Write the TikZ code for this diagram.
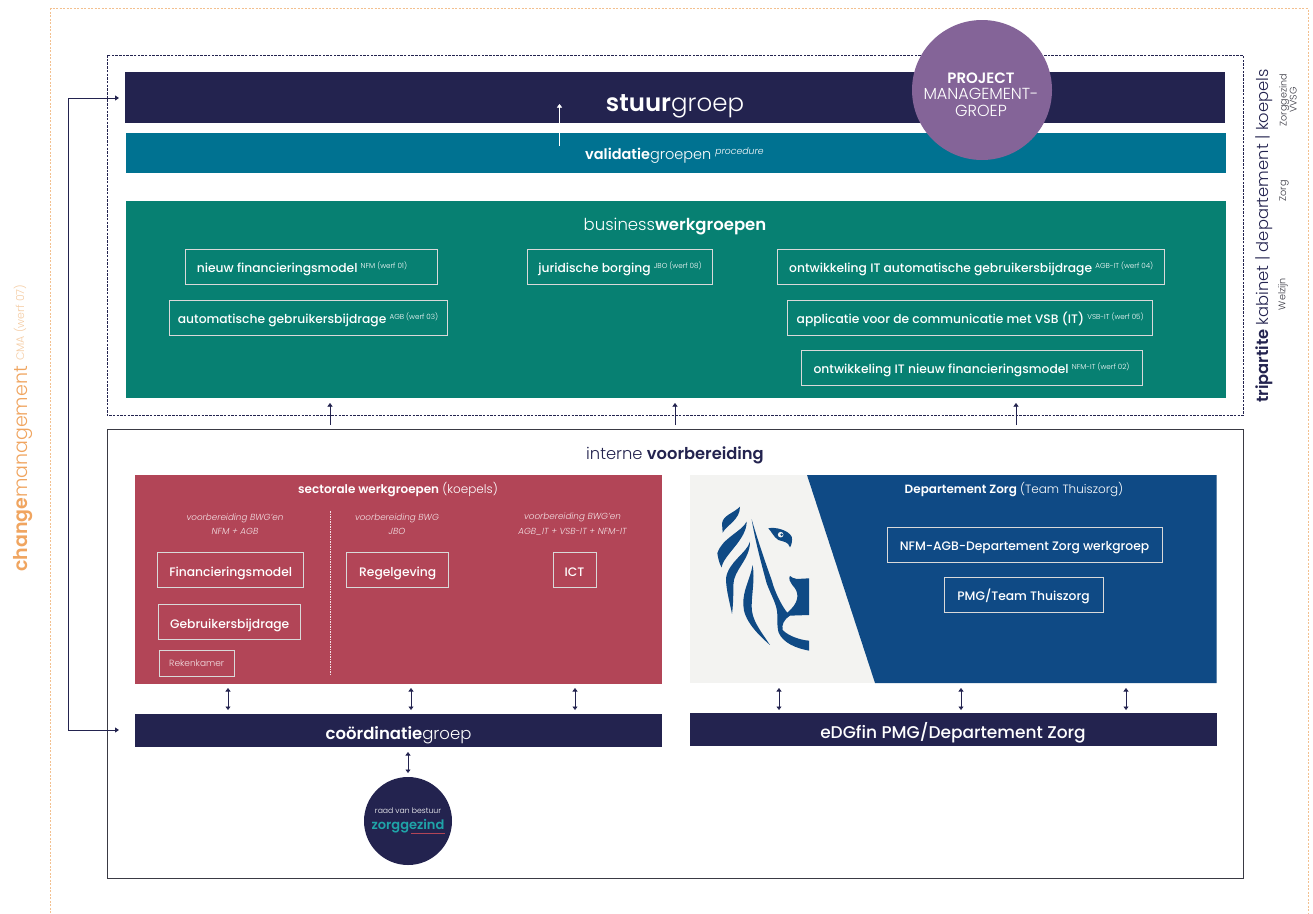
\documentclass[tikz,border=0pt]{standalone}
\usepackage{fontspec}
\setmainfont{Poppins}[BoldFont=Poppins SemiBold,ItalicFont=Poppins Light Italic]
\newfontfamily\lightf{Poppins Light}
\newfontfamily\medf{Poppins Medium}
\usetikzlibrary{arrows.meta}
\definecolor{navy}{HTML}{23234F}
\definecolor{petrol}{HTML}{007291}
\definecolor{wgreen}{HTML}{078072}
\definecolor{wine}{HTML}{B24557}
\definecolor{vblue}{HTML}{0F4A85}
\definecolor{paper}{HTML}{F3F3F1}
\definecolor{mauve}{HTML}{846498}
\definecolor{orangeL}{HTML}{F3C08F}
\definecolor{orangeT}{HTML}{F0A560}
\definecolor{teallogo}{HTML}{1FA3A8}
\definecolor{frame}{HTML}{3A3A44}
\tikzset{
 x=1pt,y=-1pt,
 bar/.style={fill=#1,draw=none},
 wbox/.style={draw=white!85!black,line width=1pt,text=white,inner sep=0pt,anchor=center,text height=12.5pt,text depth=0pt,font=\fontsize{12.3}{14}\medf},
 lbl/.style={text=white,inner sep=0pt,font=\fontsize{#1}{#1}\selectfont},
 arr/.style={draw=navy,line width=.5pt,-{Triangle[length=3.5pt,width=5pt]}},
 darr/.style={draw=navy,line width=.6pt,{Triangle[length=3.5pt,width=5pt]}-{Triangle[length=3.5pt,width=5pt]}},
 orangedash/.style={draw=orangeL,line width=.7pt,dash pattern=on 2pt off 1.5pt},
}
\newcommand{\wf}[1]{\raisebox{.7ex}{\lightf\fontsize{7.2}{8}\selectfont #1}}
\begin{document}
\begin{tikzpicture}
\useasboundingbox (0,0) rectangle (1313,913);
\fill[white] (0,0) rectangle (1313,913);
% outer orange frame
\coordinate (oa) at (50.5,913); \coordinate (ob) at (50.5,8.5); \coordinate (oc) at (1308,8.5); \coordinate (od) at (1308,913);
\draw[orangedash] (oa) -- (ob) -- (oc) -- (od);
% bars
\path[bar=navy] (125,72) rectangle (1225,122.5);
\path[bar=petrol] (126,133) rectangle (1226,172.5);
\path[bar=wgreen] (126,200.5) rectangle (1226,398);
\draw[navy,line width=1pt,dash pattern=on 2.5pt off 1.2pt] (107,55) rectangle (1243,415.5);
\node[circle,fill=mauve,minimum size=140pt,inner sep=0pt] (pmg) at (982,90) {};
\node[lbl=13,align=center,font=\fontsize{16}{16.5}\lightf,text=white] at (981,94.5) {{\normalfont\fontsize{15}{16.5}\selectfont\bfseries PROJECT}\\MANAGEMENT-\\GROEP};
\node[lbl=24.5] (stuur) at (675,106.5) {\textbf{stuur}{\lightf groep}};
\node[lbl=14.5,anchor=west] (valid) at (585,155.5) {\textbf{validatie}{\lightf groepen} \raisebox{.6ex}{\fontsize{9.3}{10}\selectfont\itshape procedure}};
\coordinate (va) at (559.5,146); \coordinate (vb) at (559.5,104);
\draw[white,line width=.5pt,-{Triangle[length=3.5pt,width=5pt]}] (va) -- (vb);
\node[lbl=16.5] (bw) at (675,227) {{\lightf business}\textbf{werkgroepen}};
% business boxes
\node[wbox,minimum width=252pt,minimum height=35pt] (b1) at (311,266.5) {nieuw financieringsmodel \wf{NFM (werf 01)}\hspace*{18pt}};
\node[wbox,minimum width=278pt,minimum height=35pt] (b2) at (308,317.5) {automatische gebruikersbijdrage \wf{AGB (werf 03)}};
\node[wbox,minimum width=185pt,minimum height=35pt] (b3) at (620,266.5) {juridische borging \wf{JBO (werf 08)}};
\node[wbox,minimum width=386.5pt,minimum height=35pt] (b4) at (971.2,266.5) {ontwikkeling IT automatische gebruikersbijdrage \wf{AGB-IT (werf 04)}};
\node[wbox,minimum width=364.5pt,minimum height=35pt] (b5) at (970.2,317.5) {applicatie voor de communicatie met VSB (IT) \wf{VSB-IT (werf 05)}};
\node[wbox,minimum width=341pt,minimum height=35pt] (b6) at (971.5,367.5) {ontwikkeling IT nieuw financieringsmodel \wf{NFM-IT (werf 02)}};
% interne
\node[draw=frame,line width=.8pt,minimum width=1136pt,minimum height=449pt,inner sep=0pt] (int) at (675,653.5) {};
\node[inner sep=0pt,text=navy,font=\fontsize{16.3}{17}\selectfont] (intl) at (675,455) {{\lightf interne} \textbf{voorbereiding}};
% red
\node[fill=wine,minimum width=527pt,minimum height=209pt,inner sep=0pt] (red) at (398.5,579.5) {};
\node[lbl=12] at (398,490) {\textbf{sectorale werkgroepen} {\lightf (koepels)}};
\coordinate (da) at (330,511); \coordinate (db) at (330,676);
\draw[white!85!wine,line width=.7pt,dash pattern=on 1.5pt off 1pt] (da) -- (db);
\node[align=center,text=white!85!wine,inner sep=0pt,font=\fontsize{8.8}{14.5}\selectfont\itshape] at (235,524) {voorbereiding BWG'en\\NFM + AGB};
\node[align=center,text=white!85!wine,inner sep=0pt,font=\fontsize{8.8}{14.5}\selectfont\itshape] at (397,524) {voorbereiding BWG\\JBO};
\node[align=center,text=white!85!wine,inner sep=0pt,font=\fontsize{8.8}{14.5}\selectfont\itshape] at (572.5,524) {voorbereiding BWG'en\\AGB\_IT + VSB-IT + NFM-IT};
\node[wbox,minimum width=145.5pt,minimum height=34.5pt] (f) at (230.7,570.2) {Financieringsmodel};
\node[wbox,minimum width=141.5pt,minimum height=35pt] (g) at (229.7,622) {Gebruikersbijdrage};
\node[wbox,minimum width=75.5pt,minimum height=26pt,font=\fontsize{9}{11}\lightf,text=white!85!wine,line width=.7pt,text height=7pt] (r) at (196.7,663) {Rekenkamer};
\node[wbox,minimum width=101.5pt,minimum height=34.5pt] (reg) at (397.7,570.2) {Regelgeving};
\node[wbox,minimum width=43pt,minimum height=34.5pt] (ict) at (574.5,570.2) {ICT};
% coord
\node[fill=navy,minimum width=527pt,minimum height=33pt,inner sep=0pt,lbl=16.5,text=white,text height=18pt,text depth=0pt] (co) at (398.5,730.5) {\textbf{coördinatie}{\lightf groep}};
% right panel
\fill[paper] (689.5,475) rectangle (1216.5,683);
\fill[vblue] (807,475) -- (1216.5,475) -- (1216.5,683) -- (875,683) -- cycle;
\node[lbl=12] at (1014,490) {\textbf{Departement Zorg} {\lightf (Team Thuiszorg)}};
\node[wbox,minimum width=275pt,minimum height=35pt] (n) at (1024.5,544.5) {NFM-AGB-Departement Zorg werkgroep};
\node[wbox,minimum width=159pt,minimum height=35pt] (p) at (1023.5,594.5) {PMG/Team Thuiszorg};
\node[fill=navy,minimum width=527pt,minimum height=33pt,inner sep=0pt,text=white,text height=18pt,text depth=0pt,font=\fontsize{17}{18}\medf] (ed) at (953,729.5) {eDGfin PMG/Departement Zorg};
% lion
\begin{scope}[shift={(700,490)},x=.3333pt,y=-.3333pt,vblue]
\fill (120,50) .. controls (100,70) and (70,75) .. (66,100) -- (68,128) .. controls (80,105) and (120,90) .. (120,50) -- cycle;
\fill (140,95) .. controls (125,125) and (65,145) .. (52,190) .. controls (55,210) and (60,225) .. (65,232) .. controls (70,195) and (140,150) .. (140,95) -- cycle;
\fill (150,155) .. controls (140,190) and (85,215) .. (78,265) .. controls (78,300) and (90,340) .. (96,372) .. controls (100,340) and (100,310) .. (100,285) .. controls (100,240) and (150,210) .. (150,155) -- cycle;
\fill (158,225) .. controls (150,270) and (128,300) .. (130,345) .. controls (130,390) and (175,435) .. (210,465) .. controls (180,420) and (155,390) .. (155,350) .. controls (155,310) and (165,270) .. (158,225) -- cycle;
\fill (155,88) .. controls (165,150) and (185,225) .. (200,280) .. controls (215,320) and (232,345) .. (232,375) .. controls (232,400) and (232,415) .. (236,428) .. controls (250,460) and (290,475) .. (327,482) -- (327,452) .. controls (300,450) and (265,438) .. (248,420) .. controls (245,405) and (250,390) .. (270,377) -- (327,375) -- (327,265) -- (290,267) .. controls (280,265) and (275,262) .. (270,258) .. controls (265,265) and (268,275) .. (285,295) .. controls (298,315) and (295,340) .. (262,368) .. controls (250,355) and (225,310) .. (215,270) .. controls (195,215) and (170,140) .. (155,88) -- cycle;
\fill (205,115) .. controls (225,110) and (265,120) .. (275,140) .. controls (278,150) and (275,165) .. (270,172) .. controls (265,155) and (250,155) .. (235,150) .. controls (220,140) and (215,125) .. (205,115) -- cycle;
\fill[paper] (242,134) circle (2.8pt);
\fill[vblue] (245,134) circle (1.4pt);
\end{scope}
% connectors between groups
\coordinate (u1) at (330,425); \coordinate (u1t) at (330,403);
\coordinate (u2) at (675,425); \coordinate (u2t) at (675,403);
\coordinate (u3) at (1016,425); \coordinate (u3t) at (1016,403);
\draw[arr] (u1) -- (u1t);
\draw[arr] (u2) -- (u2t);
\draw[arr] (u3) -- (u3t);
\foreach \xx in {228,411,575,779,961,1126}{
 \coordinate (t) at (\xx,688); \coordinate (b) at (\xx,710);
 \draw[darr] (t) -- (b);
}
\coordinate (ct) at (408,752); \coordinate (cb) at (408,773);
\draw[darr] (ct) -- (cb);
% long feedback
\coordinate (la) at (68,98); \coordinate (lb) at (68,730);
\coordinate (sa) at (119,98); \coordinate (sb) at (119,730);
\draw[navy,line width=.8pt,{Triangle[length=4pt,width=5pt]}-{Triangle[length=4pt,width=5pt]}] (sa) -- (la) -- (lb) -- (sb);
% raad
\node[circle,fill=navy,minimum size=88pt,inner sep=0pt] (rv) at (408,821) {};
\node[lbl=7.7] at (408,810.5) {{\lightf raad van bestuur}};
\node[inner sep=0pt,text=teallogo,font=\fontsize{13}{15}\selectfont\bfseries] at (408,826.5) {zorggezind};
\fill[wine] (411,832.5) rectangle (445,833.8);
% rotated texts
\node[rotate=90,anchor=west,inner sep=0pt,text=navy,font=\fontsize{16.3}{17}\selectfont] at (1264,403) {\textbf{tripartite} {\lightf kabinet | departement | koepels}};
\node[rotate=90,inner sep=0pt,text=frame,align=center,font=\fontsize{9.6}{10}\lightf] at (1288,100) {Zorggezind\\VVSG};
\node[rotate=90,inner sep=0pt,text=frame,font=\fontsize{9.6}{10}\lightf] at (1284,191) {Zorg};
\node[rotate=90,inner sep=0pt,text=frame,font=\fontsize{9.6}{10}\lightf] at (1283,294) {Welzijn};
\node[rotate=90,anchor=west,inner sep=0pt,text=orangeT,font=\fontsize{19}{20}\selectfont] at (23,572) {\textbf{change}{\lightf management}};
\node[rotate=90,anchor=west,inner sep=0pt,text=orangeL!80!white,font=\fontsize{11}{12}\lightf] at (20,361) {CMA (werf 07)};
\end{tikzpicture}
\end{document}
